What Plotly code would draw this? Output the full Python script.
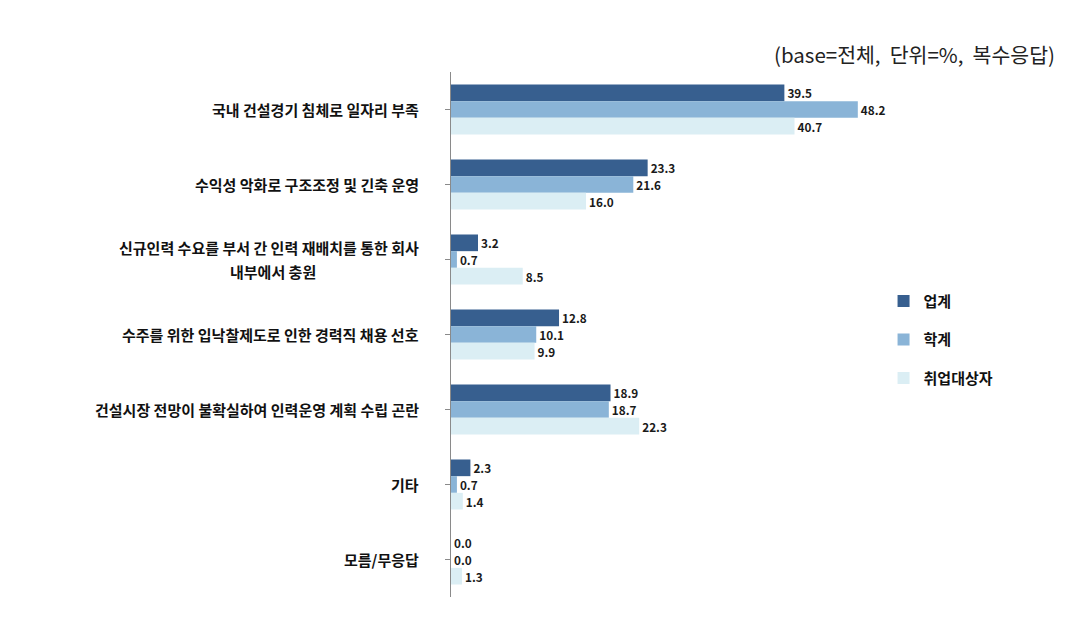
import plotly.graph_objects as go

categories = [
    "국내 건설경기 침체로 일자리 부족",
    "수익성 악화로 구조조정 및 긴축 운영",
    "신규인력 수요를 부서 간 인력 재배치를 통한 회사<br>내부에서 충원",
    "수주를 위한 입낙찰제도로 인한 경력직 채용 선호",
    "건설시장 전망이 불확실하여 인력운영 계획 수립 곤란",
    "기타",
    "모름/무응답",
]
series_names = ["업계", "학계", "취업대상자"]
industry = [39.5, 23.3, 3.2, 12.8, 18.9, 2.3, 0.0]
academia = [48.2, 21.6, 0.7, 10.1, 18.7, 0.7, 0.0]
jobseekers = [40.7, 16.0, 8.5, 9.9, 22.3, 1.4, 1.3]
title_text = "(base=전체,\u00a0\u00a0단위=%,\u00a0\u00a0복수응답)"

colors = ["#375F8F", "#8AB4D7", "#DBEEF4"]
font_family = "Noto Sans CJK KR"

fig = go.Figure()
for name, vals, col in zip(series_names, [industry, academia, jobseekers], colors):
    fig.add_trace(go.Bar(
        y=list(range(len(categories))), x=vals, name=name, orientation="h",
        marker=dict(color=col, line=dict(width=0)),
        text=[f"{v:.1f}" for v in vals], textposition="outside",
        textfont=dict(family=font_family, size=12, color="#1a1a1a", weight="bold"),
        cliponaxis=False, legendgroup=name,
    ))

annotations = []
line_gap = 24
for i, c in enumerate(categories):
    lines = c.split("<br>")
    n = len(lines)
    for j, ln in enumerate(lines):
        annotations.append(dict(
            x=0, xref="paper", xanchor="right" if j == 0 else "center",
            xshift=-30 if j == 0 else -178,
            y=i, yref="y", yanchor="middle",
            yshift=((n - 1) / 2 - j) * line_gap,
            text=ln, showarrow=False, align="center",
            font=dict(family=font_family, size=15, color="#111111", weight="bold"),
        ))
annotations.append(dict(
    x=1.0, xref="paper", xanchor="right", xshift=184,
    y=1.0, yref="paper", yanchor="bottom", yshift=1,
    text=title_text, showarrow=False,
    font=dict(family=font_family, size=20.5, color="#222222"),
))

fig.update_layout(
    width=1075, height=643,
    margin=dict(l=451, r=202, t=72, b=46),
    paper_bgcolor="white", plot_bgcolor="white",
    barmode="group", bargap=0.333, bargroupgap=0,
    showlegend=True,
    legend=dict(
        x=1.025, xanchor="left", y=0.49, yanchor="middle",
        font=dict(family=font_family, size=15, color="#111111", weight="bold"),
        tracegroupgap=16, traceorder="grouped", itemwidth=30,
        bgcolor="rgba(0,0,0,0)",
    ),
    annotations=annotations,
    xaxis=dict(visible=False, range=[0, 50]),
    yaxis=dict(
        range=[6.5, -0.5], showline=True, linecolor="#8a8a8a", linewidth=1,
        ticks="outside", tickson="boundaries", ticklen=5, tickcolor="#8a8a8a",
        tickvals=list(range(len(categories))), showticklabels=False,
        showgrid=False, zeroline=False,
    ),
)

fig.write_html("out.html")
